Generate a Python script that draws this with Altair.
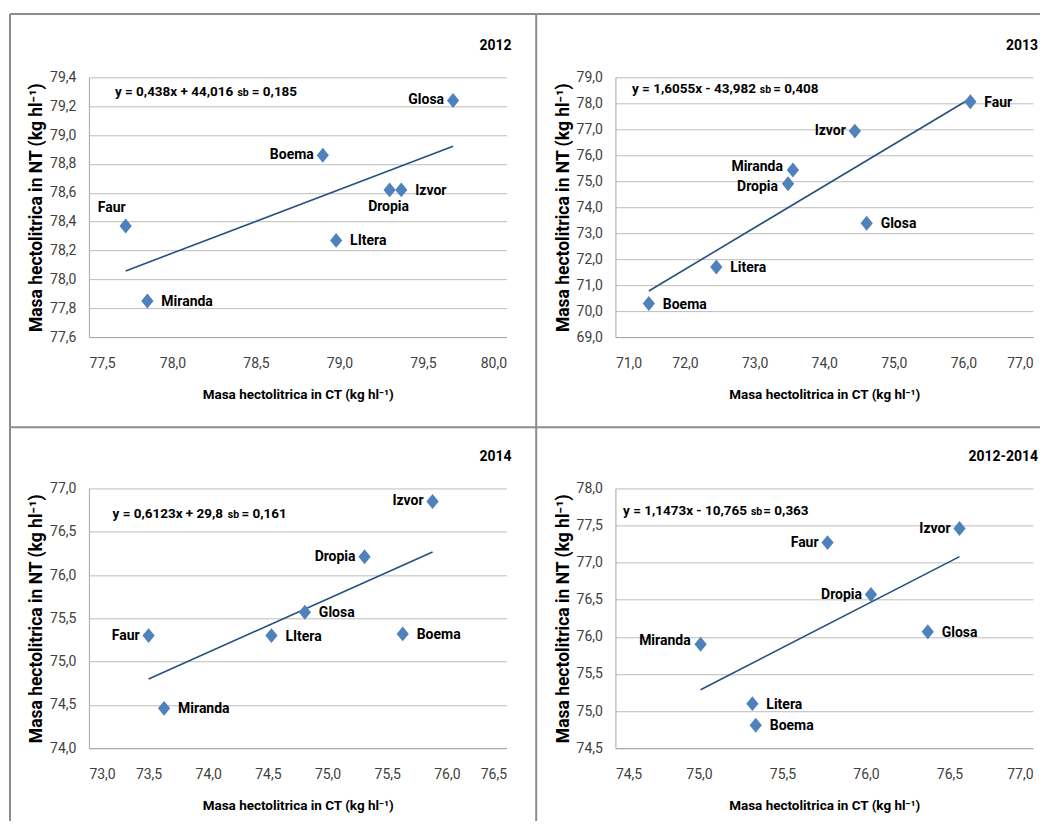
import altair as alt
import pandas as pd

# ---------------- data ----------------
VARIETIES = ["Boema", "Dropia", "Faur", "Glosa", "Izvor", "Litera", "Miranda"]
VARIETIES_ALT = ["Boema", "Dropia", "Faur", "Glosa", "Izvor", "LItera", "Miranda"]

CT_2012 = [78.90, 79.30, 77.72, 79.68, 79.37, 78.98, 77.85]
NT_2012 = [78.86, 78.62, 78.37, 79.24, 78.62, 78.27, 77.85]

CT_2013 = [71.48, 73.48, 76.10, 74.61, 74.44, 72.45, 73.55]
NT_2013 = [70.29, 74.90, 78.06, 73.38, 76.93, 71.70, 75.43]

CT_2014 = [75.63, 75.31, 73.50, 74.81, 75.88, 74.53, 73.63]
NT_2014 = [75.32, 76.21, 75.30, 75.57, 76.85, 75.30, 74.46]

CT_ALL = [75.34, 76.03, 75.77, 76.37, 76.56, 75.32, 75.01]
NT_ALL = [74.81, 76.57, 77.27, 76.07, 77.46, 75.10, 75.90]

# label placement per variety
# r = right, l = left, lu/ld = left nudged up/down, b = below, al = above-left
SIDES_2012 = ["l", "b", "al", "l", "r", "r", "r"]
SIDES_2013 = ["r", "ld", "r", "r", "l", "r", "lu"]
SIDES_2014 = ["r", "l", "l", "r", "l", "r", "r"]
SIDES_ALL = ["r", "l", "l", "r", "l", "r", "lu"]

XTICKS_2012 = [77.5, 78.0, 78.5, 79.0, 79.5, 80.0]
YTICKS_2012 = [77.6, 77.8, 78.0, 78.2, 78.4, 78.6, 78.8, 79.0, 79.2, 79.4]
XTICKS_2013 = [71.0, 72.0, 73.0, 74.0, 75.0, 76.0, 77.0]
YTICKS_2013 = [69.0, 70.0, 71.0, 72.0, 73.0, 74.0, 75.0, 76.0, 77.0, 78.0, 79.0]
XTICKS_2014 = [73.0, 73.5, 74.0, 74.5, 75.0, 75.5, 76.0, 76.5]
YTICKS_2014 = [74.0, 74.5, 75.0, 75.5, 76.0, 76.5, 77.0]
XTICKS_ALL = [74.5, 75.0, 75.5, 76.0, 76.5, 77.0]
YTICKS_ALL = [74.5, 75.0, 75.5, 76.0, 76.5, 77.0, 77.5, 78.0]

EQ = {
    "2012": ("y = 0,438x + 44,016", "sb", "= 0,185"),
    "2013": ("y = 1,6055x - 43,982", "sb", "= 0,408"),
    "2014": ("y = 0,6123x + 29,8", "sb", "= 0,161"),
    "2012-2014": ("y = 1,1473x - 10,765", "sb", "= 0,363"),
}

X_TITLE = "Masa hectolitrica in CT (kg hl⁻¹)"
Y_TITLE = "Masa hectolitrica in NT (kg hl⁻¹)"

# ---------------- style ----------------
FONT = "Roboto, Liberation Sans, sans-serif"
W, H = 418, 260
DIAMOND = "M-1,0L0,-1.22L1,0L0,1.22Z"
POINT_COLOR = "#4F81BD"
LINE_COLOR = "#274F80"
FRAME_COLOR = "#8C8C8C"
FMT = "replace(format(datum.value, '.1f'), '.', ',')"

SIDE_STYLE = {
    "r": dict(align="left", dx=14, dy=1),
    "l": dict(align="right", dx=-9, dy=0),
    "lu": dict(align="right", dx=-10, dy=-3),
    "ld": dict(align="right", dx=-10, dy=3),
    "b": dict(align="center", dx=-1, dy=17),
    "al": dict(align="center", dx=-14, dy=-18),
}


def one(**kw):
    return alt.Chart(pd.DataFrame({k: [v] for k, v in kw.items()}))


def panel(names, ct, nt, sides, xticks, yticks, year, eqpos, frame):
    df = pd.DataFrame({"variety": names, "ct": ct, "nt": nt, "side": sides})
    xs = alt.Scale(domain=[xticks[0], xticks[-1]], nice=False, zero=False)
    ys = alt.Scale(domain=[yticks[0], yticks[-1]], nice=False, zero=False)
    xax = alt.Axis(values=xticks, tickCount=50, labelExpr=FMT, title=X_TITLE, grid=False,
                   ticks=False, labelPadding=26, labelBaseline="middle", titleX=W / 2,
                   titleY=57, titleBaseline="middle", domainColor="#A6A6A6",
                   titleFontSize=13.5)
    yax = alt.Axis(values=yticks, tickCount=50, labelExpr=FMT, title=Y_TITLE, grid=True,
                   ticks=False, labelPadding=13, titleX=-52, titleY=H / 2,
                   titleBaseline="middle", titleAngle=270, titleAlign="center",
                   domainColor="#A6A6A6", titleFontSize=17.5)
    base = alt.Chart(df)
    pts = base.mark_point(shape=DIAMOND, filled=True, size=150, color=POINT_COLOR, opacity=1).encode(
        x=alt.X("ct:Q", scale=xs, axis=xax),
        y=alt.Y("nt:Q", scale=ys, axis=yax),
    )
    reg = base.transform_regression("ct", "nt", method="linear").mark_line(
        color=LINE_COLOR, strokeWidth=1.6
    ).encode(x=alt.X("ct:Q", scale=xs), y=alt.Y("nt:Q", scale=ys))
    layers = []
    for side, st in SIDE_STYLE.items():
        if side not in sides:
            continue
        layers.append(
            base.transform_filter(alt.datum.side == side)
            .mark_text(font=FONT, fontSize=14, fontWeight="bold", color="black",
                       baseline="middle", **st)
            .encode(x=alt.X("ct:Q", scale=xs), y=alt.Y("nt:Q", scale=ys), text="variety:N")
        )
    main, sb, val = EQ[year]
    (xm, xsb, xv, ye) = eqpos
    eq1 = one(t=main).mark_text(font=FONT, fontSize=13.5, fontWeight="bold", align="left",
                                baseline="middle", color="black").encode(
        x=alt.value(xm), y=alt.value(ye), text="t:N")
    eq2 = one(t=sb).mark_text(font=FONT, fontSize=10.5, fontWeight="bold", align="left",
                              baseline="middle", color="black").encode(
        x=alt.value(xsb), y=alt.value(ye + 1), text="t:N")
    eq3 = one(t=val).mark_text(font=FONT, fontSize=13.5, fontWeight="bold", align="left",
                               baseline="middle", color="black").encode(
        x=alt.value(xv), y=alt.value(ye), text="t:N")
    yr = one(t=year).mark_text(font=FONT, fontSize=14, fontWeight="bold", align="right",
                               baseline="middle", color="black").encode(
        x=alt.value(423), y=alt.value(-31), text="t:N")
    fx0, fy0, fx1, fy1 = frame
    vline = one(a=0).mark_rule(color=FRAME_COLOR, strokeWidth=2).encode(
        x=alt.value(fx0), y=alt.value(fy0), y2=alt.value(fy1))
    hline = one(a=0).mark_rule(color=FRAME_COLOR, strokeWidth=2).encode(
        x=alt.value(fx0), x2=alt.value(fx1), y=alt.value(fy0))
    return alt.layer(vline, hline, reg, pts, *layers, eq1, eq2, eq3, yr).properties(width=W, height=H)


p1 = panel(VARIETIES_ALT, CT_2012, NT_2012, SIDES_2012, XTICKS_2012, YTICKS_2012, "2012",
           (26, 148.7, 163, 15), (-79, -63.5, 447.7, 350.2))
p2 = panel(VARIETIES, CT_2013, NT_2013, SIDES_2013, XTICKS_2013, YTICKS_2013, "2013",
           (16.6, 144.6, 158, 12), (-79.3, -63.5, 425, 350.2))
p3 = panel(VARIETIES_ALT, CT_2014, NT_2014, SIDES_2014, XTICKS_2014, YTICKS_2014, "2014",
           (23.6, 139, 152.7, 25.7), (-79, -61.3, 447.7, 333))
p4 = panel(VARIETIES, CT_ALL, NT_ALL, SIDES_ALL, XTICKS_ALL, YTICKS_ALL, "2012-2014",
           (7.6, 135.6, 148, 23), (-79.3, -61.3, 425, 333))

chart = alt.concat(p1, p2, p3, p4, columns=2, spacing={"row": 151.5, "column": 109},
                   bounds="flush").properties(
    padding={"left": 1, "top": 4, "right": 0, "bottom": 0}
).configure_view(stroke=None).configure_axis(
    labelFont=FONT, titleFont=FONT, labelFontSize=14,
    labelColor="#404040", titleColor="black", titleFontWeight="bold",
    gridColor="#BDBDBD", gridWidth=1, domainWidth=1,
)

chart.save("out.html", embed_options={"renderer": "svg", "actions": False})
